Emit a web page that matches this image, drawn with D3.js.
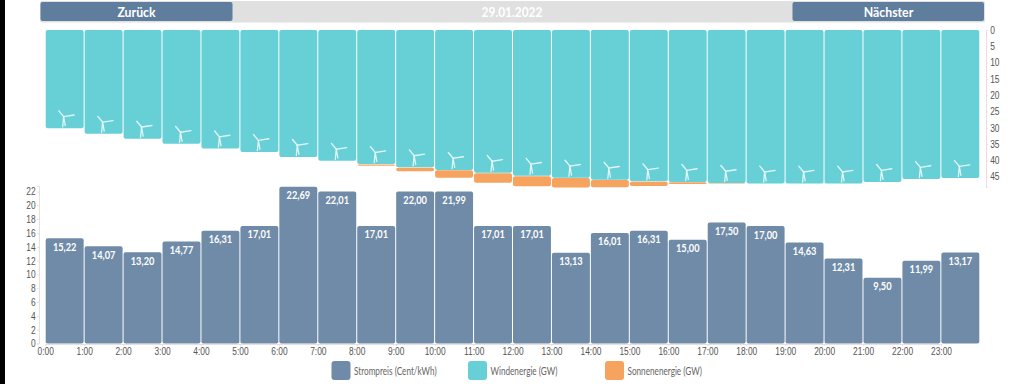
<!DOCTYPE html>
<html lang="de">
<head>
<meta charset="utf-8">
<title>Strompreis</title>
<script src="https://cdn.jsdelivr.net/npm/d3@7/dist/d3.min.js"></script>
<style>
html,body{margin:0;padding:0;background:#fff;overflow:hidden}
svg{display:block;font-family:Lato,sans-serif}
.axis path{stroke:#eadfdf}
.axis line{stroke:#eadfdf}
.axis text{fill:#555;font-size:10px;transform:scaleX(.84)}
</style>
</head>
<body>
<svg id="c" width="1024" height="384"></svg>
<script>
const hourLabels = ["0:00","1:00","2:00","3:00","4:00","5:00","6:00","7:00","8:00","9:00","10:00","11:00","12:00","13:00","14:00","15:00","16:00","17:00","18:00","19:00","20:00","21:00","22:00","23:00"];
const prices = [15.22,14.07,13.20,14.77,16.31,17.01,22.69,22.01,17.01,22.00,21.99,17.01,17.01,13.13,16.01,16.31,15.00,17.50,17.00,14.63,12.31,9.50,11.99,13.17];
const wind = [30.2,31.9,33.4,35.0,36.4,37.5,39.0,40.2,41.2,42.2,43.0,43.9,44.8,45.4,46.0,46.5,46.7,47.0,47.2,47.2,47.2,46.7,45.8,45.5];
const solar = [0,0,0,0,0,0,0,0,0.4,1.1,2.3,2.9,3.1,2.9,2.2,1.3,0.5,0.1,0,0,0,0,0,0];
const windTicks = [0,5,10,15,20,25,30,35,40,45];
const priceTicks = [0,2,4,6,8,10,12,14,16,18,20,22];
const legendNames = ["Strompreis (Cent/kWh)","Windenergie (GW)","Sonnenenergie (GW)"];
const dateLabel = "29.01.2022";
const navLabels = ["Zurück","Nächster"];

const colPrice="#6f8ba8", colWind="#66d0d6", colSolar="#f5a35f", colBtn="#5f7d9d";
const narrow=(px,py,k)=>`translate(${px},${py}) scale(${k},1)`;
const svg=d3.select("#c");
svg.append("rect").attr("x",0).attr("y",0).attr("width",5).attr("height",384).attr("fill","#000");

// header
svg.append("rect").attr("x",40).attr("y",1).attr("width",945).attr("height",21.5).attr("fill","#e0e0e0").attr("rx",2);
svg.append("text").attr("transform",narrow(512,17,.85)).attr("text-anchor","middle").attr("fill","#fff").attr("font-size",14).attr("font-weight",700).text(dateLabel);
[[40.5,192,136.5],[792.5,191.5,888.5]].forEach((b,i)=>{
  svg.append("rect").attr("x",b[0]).attr("y",2).attr("width",b[1]).attr("height",19).attr("rx",2).attr("fill",colBtn);
  svg.append("text").attr("transform",narrow(b[2],17,.88)).attr("text-anchor","middle").attr("fill","#fff").attr("font-size",14).attr("font-weight",700).text(navLabels[i]);
});

const x=d3.scaleLinear().domain([0,24]).range([45.2,979.8]);
const yW=d3.scaleLinear().domain([0,45]).range([30,176.4]);
const yP=d3.scaleLinear().domain([0,22]).range([343.5,191.5]);
const hours=d3.range(24);

// top chart
const topG=svg.append("g");
topG.selectAll("rect.w").data(hours).join("rect").attr("class","w")
  .attr("x",h=>x(h)+.5).attr("width",h=>x(h+1)-x(h)-1)
  .attr("y",yW(0)).attr("height",h=>yW(wind[h])-yW(0)).attr("rx",2).attr("fill",colWind);
topG.selectAll("rect.s").data(hours.filter(h=>solar[h]>0)).join("rect").attr("class","s")
  .attr("x",h=>x(h)+.5).attr("width",h=>x(h+1)-x(h)-1)
  .attr("y",h=>yW(wind[h])+.4).attr("height",h=>yW(wind[h]+solar[h])-yW(wind[h])).attr("rx",2).attr("fill",colSolar);
const turb=topG.selectAll("g.t").data(hours).join("g").attr("class","t")
  .attr("transform",h=>`translate(${(x(h)+x(h+1))/2-1},${yW(wind[h])-11.6})`)
  .attr("fill","none").attr("stroke","#fff").attr("stroke-opacity",.8).attr("stroke-linecap","round");
turb.append("path").attr("d","M0,0L-4.8,-5.8M0,0L10.4,-1.6").attr("stroke-width",1.4);
turb.append("path").attr("d","M0,0L-1,10.2M0,0L1.6,9").attr("stroke-width",1.3);

svg.append("g").attr("class","axis").attr("transform","translate(986,0)")
  .call(d3.axisRight(yW.copy().domain([0,48.2]).range([30,187])).tickValues(windTicks).tickSize(2).tickPadding(3))
  .call(g=>g.selectAll("text").attr("dy","0.34em"));

// bottom chart
svg.selectAll("rect.p").data(hours).join("rect").attr("class","p")
  .attr("x",h=>x(h)+.5).attr("width",h=>x(h+1)-x(h)-1)
  .attr("y",h=>yP(prices[h])).attr("height",h=>yP(0)-yP(prices[h])).attr("rx",2).attr("fill",colPrice);
svg.selectAll("text.v").data(hours).join("text").attr("class","v")
  .attr("transform",h=>narrow((x(h)+x(h+1))/2,yP(prices[h])+12.5,.88))
  .attr("text-anchor","middle").attr("fill","#fff").attr("font-size",10.5).attr("font-weight",700)
  .text(h=>prices[h].toFixed(2).replace(".",","));

svg.append("g").attr("class","axis").attr("transform","translate(39,0)")
  .call(d3.axisLeft(yP.copy().domain([0,22.8]).range([343.5,186])).tickValues(priceTicks).tickSize(2).tickPadding(2))
  .call(g=>g.selectAll("text").attr("dy","0.34em"));
svg.append("g").attr("class","axis").attr("transform","translate(0,344)")
  .call(d3.axisBottom(x.copy().domain([0,23]).range([45.2,941])).tickValues(hours).tickFormat(h=>hourLabels[h]).tickSize(2).tickPadding(2))
  .call(g=>g.select("path").attr("stroke","none"));

// legend
const legX=[331.5,468,605], legCol=[colPrice,colWind,colSolar];
const leg=svg.selectAll("g.l").data(legendNames).join("g").attr("class","l").attr("transform",(d,i)=>`translate(${legX[i]},361)`);
leg.append("rect").attr("width",19).attr("height",19).attr("rx",3).attr("fill",(d,i)=>legCol[i]);
leg.append("text").attr("transform",narrow(22.5,13.5,.78)).attr("font-size",10.5).attr("fill","#666").text(d=>d);
</script>
</body>
</html>
